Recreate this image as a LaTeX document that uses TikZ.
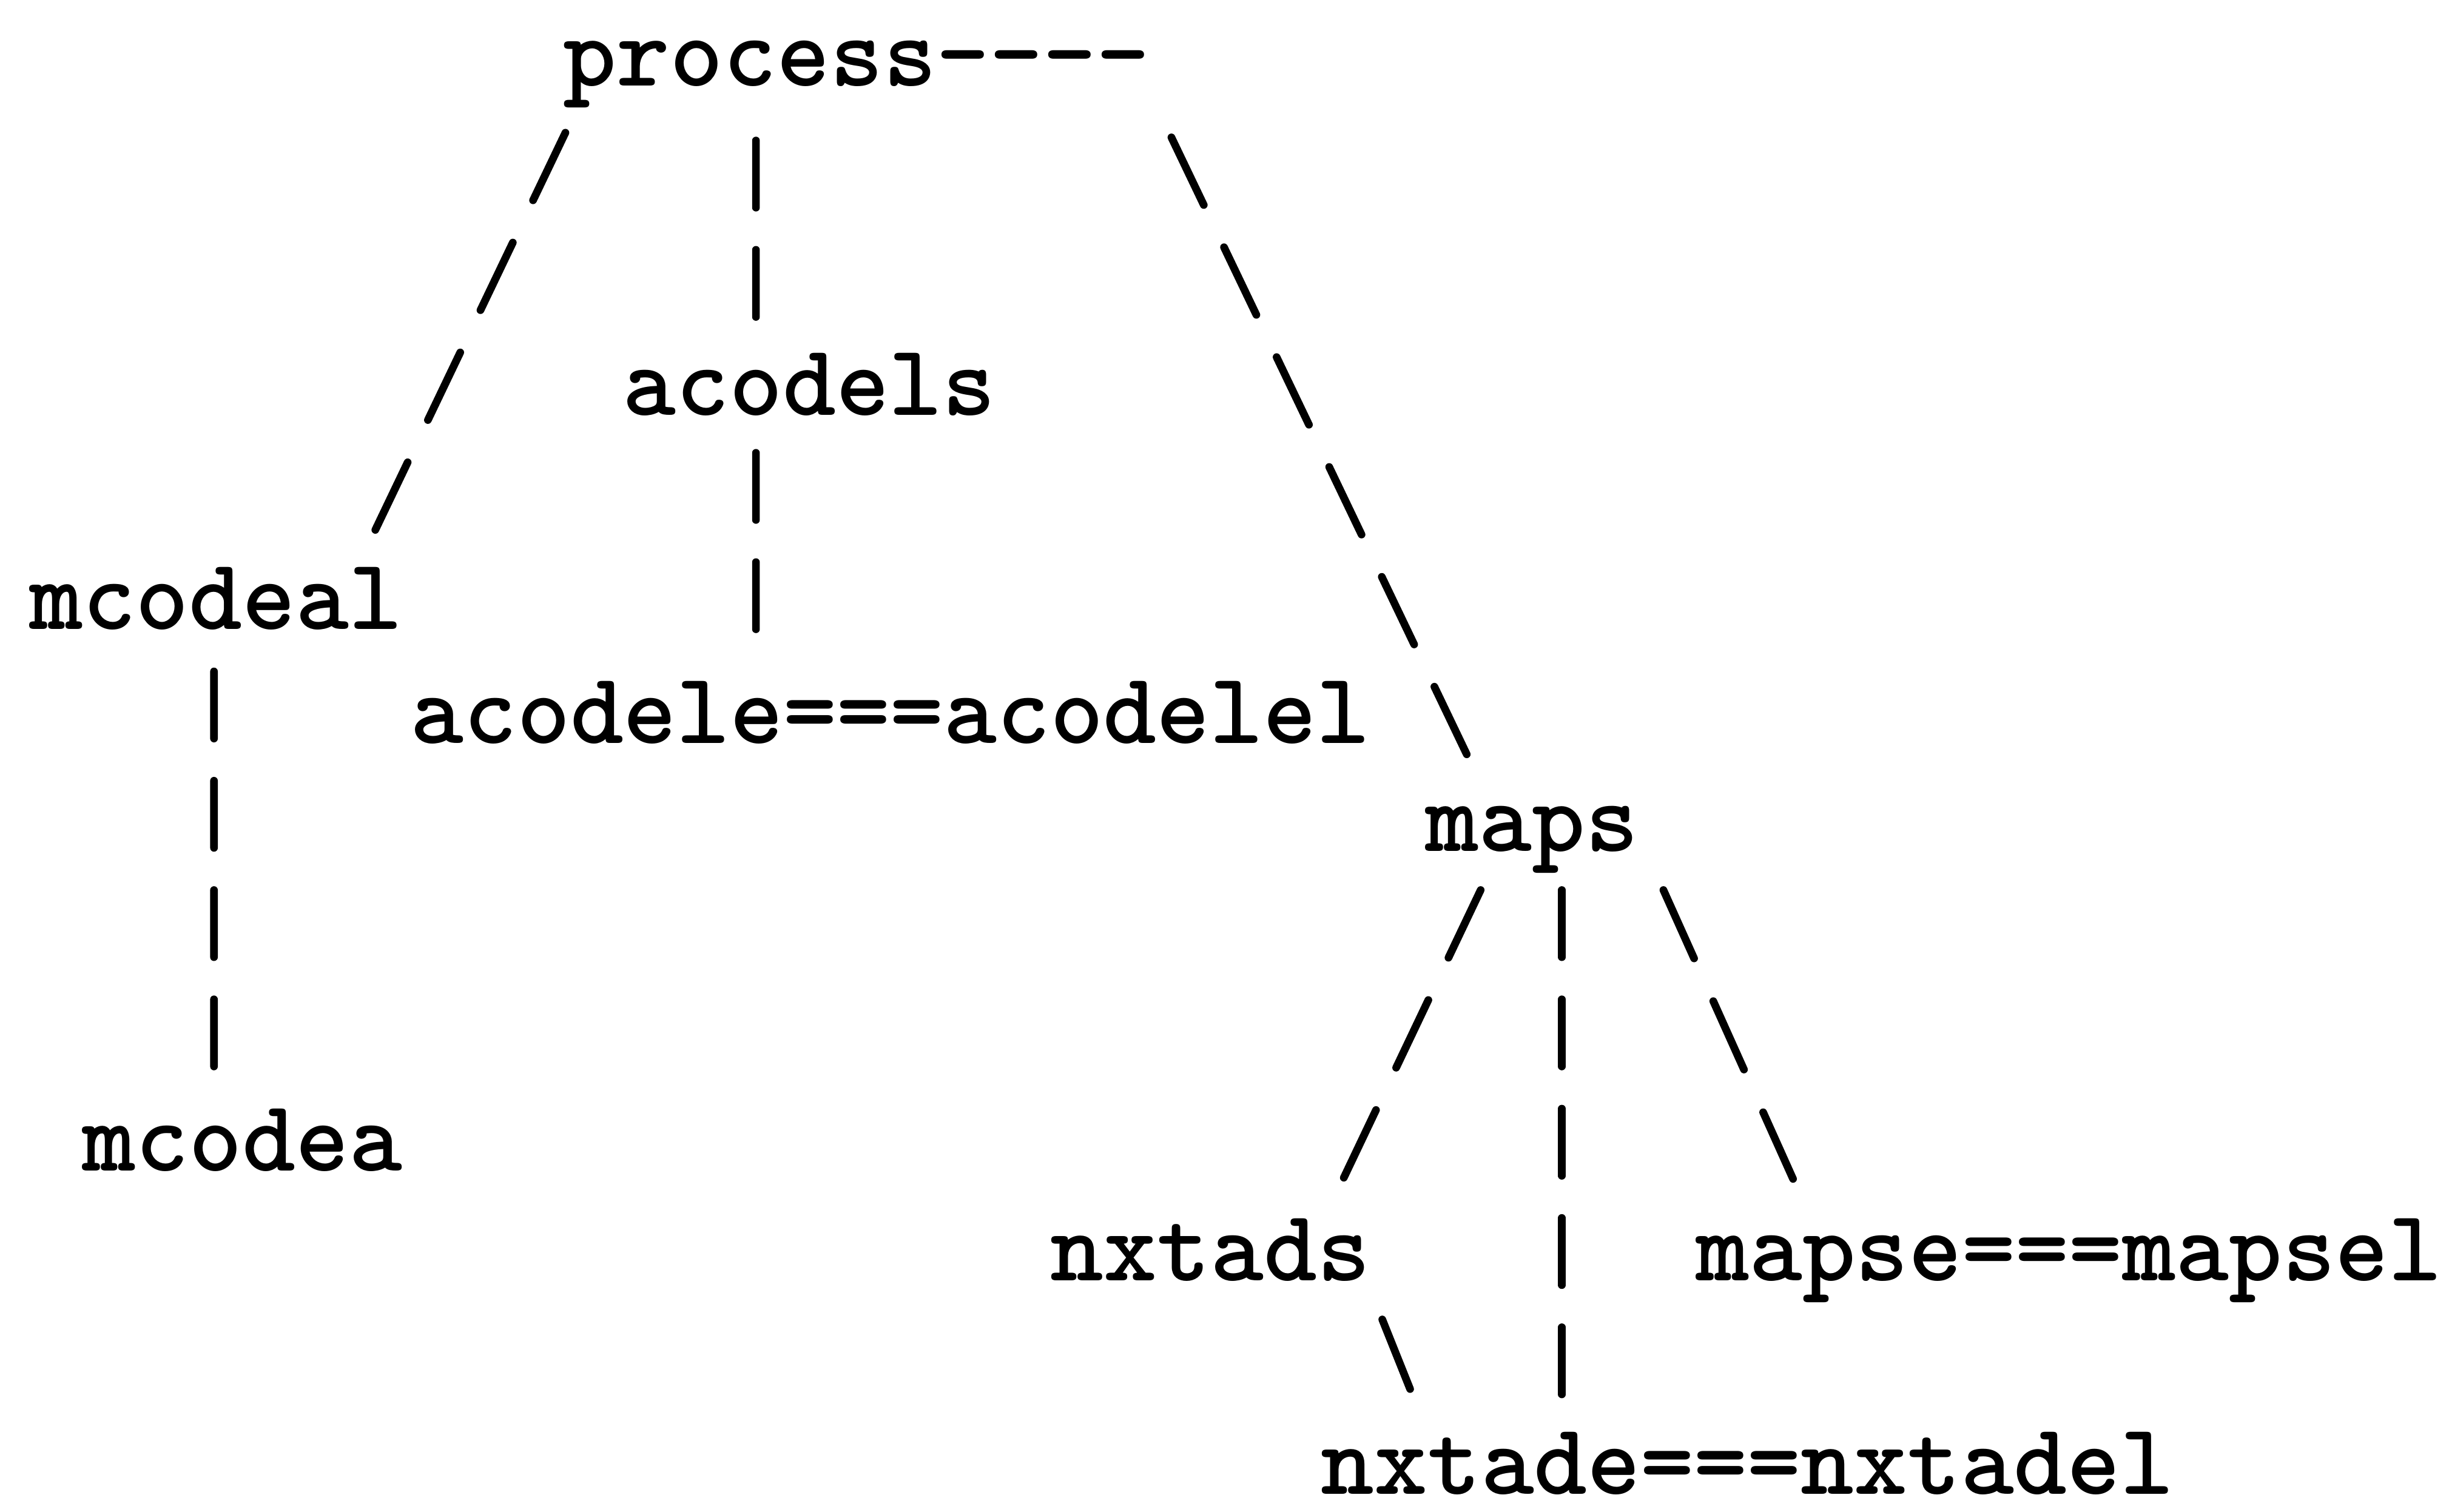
\documentclass[tikz,border=0pt]{standalone}
\usepackage{tikz}

\begin{document}
\begin{tikzpicture}[
    lbl/.style={font=\fontsize{18.5}{22}\selectfont\ttfamily\bfseries,inner sep=0pt,anchor=base west},
    slant/.style={line width=1.4pt,line cap=round,dash pattern=on 0.48cm off 0.30cm},
    vbar/.style={line width=1.4pt,line cap=round,dash pattern=on 0.43cm off 0.27cm}]
    \useasboundingbox (0,0) rectangle (15.68,9.68);
    % typed words, one per line of the listing
    \node[lbl] (proc) at (3.60,9.13) {process----};
    \node[lbl] (acodels) at (3.98,7.02) {acodels};
    \node[lbl] (mcodeal) at (0.18,5.65) {mcodeal};
    \node[lbl] (acodele) at (2.62,4.92) {acodele===acodelel};
    \node[lbl] (maps) at (9.12,4.23) {maps};
    \node[lbl] (mcodea) at (0.52,2.18) {mcodea};
    \node[lbl] (nxtads) at (6.72,1.48) {nxtads};
    \node[lbl] (mapse) at (10.85,1.48) {mapse===mapsel};
    \node[lbl] (nxtade) at (8.45,0.11) {nxtade===nxtadel};
    % links
    \draw[slant] ([shift={(0.02,-0.30)}]proc.base west) -- ([shift={(2.22,0.63)}]mcodeal.base west);
    \draw[vbar] ([shift={(1.24,-0.35)}]proc.base west) -- ([shift={(0.86,0.61)}]acodels.base west);
    \draw[vbar] ([shift={(0.86,-0.24)}]acodels.base west) -- ([shift={(2.22,0.71)}]acodele.base west);
    \draw[slant] ([shift={(3.90,-0.33)}]proc.base west) -- ([shift={(0.28,0.60)}]maps.base west);
    \draw[vbar] ([shift={(1.19,-0.27)}]mcodeal.base west) -- ([shift={(0.85,0.65)}]mcodea.base west);
    \draw[slant] ([shift={(0.36,-0.25)}]maps.base west) -- ([shift={(1.88,0.65)}]nxtads.base west);
    \draw[vbar] ([shift={(0.88,-0.25)}]maps.base west) -- ([shift={(1.55,0.62)}]nxtade.base west);
    \draw[slant] ([shift={(1.53,-0.25)}]maps.base west) -- ([shift={(0.63,0.65)}]mapse.base west);
    \draw[slant] ([shift={(2.13,-0.25)}]nxtads.base west) -- ([shift={(0.60,0.62)}]nxtade.base west);
\end{tikzpicture}
\end{document}
